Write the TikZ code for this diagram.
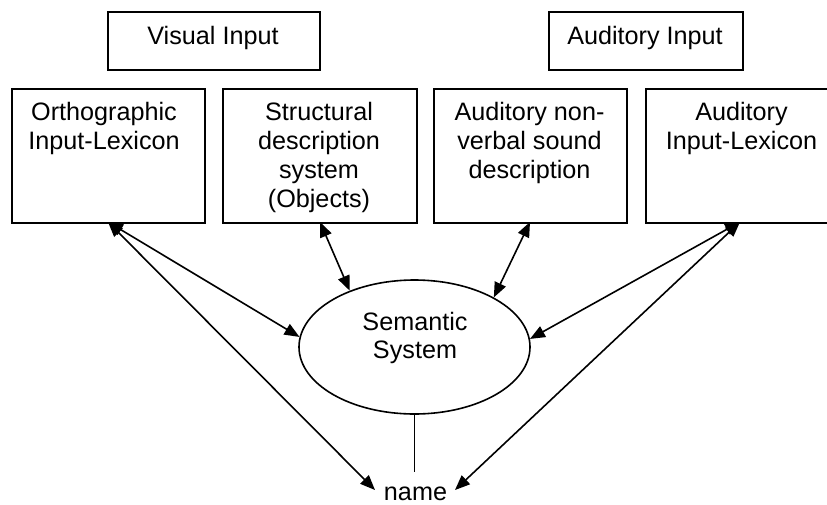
\documentclass[tikz,border=0pt]{standalone}
\usepackage{fontspec}
\setmainfont{Liberation Sans}
\usetikzlibrary{arrows.meta,shapes.geometric,calc}

\tikzset{
  x=1pt, y=1pt,
  frame/.style={draw, line width=1.8pt, rectangle, inner sep=0pt, anchor=north west},
  label text/.style={inner sep=0pt, align=center, font=\fontsize{25.2}{28.75}\selectfont},
  link/.style={line width=1.6pt, {Triangle[length=15pt,width=12pt]}-{Triangle[length=15pt,width=12pt]}},
}

\begin{document}
\begin{tikzpicture}
  \useasboundingbox (0,0) rectangle (827,-504);
  \clip (0,0) rectangle (827,-504);

  % input boxes
  \node[frame, minimum width=212pt, minimum height=58pt] (vis) at (107,-11) {};
  \node[label text, anchor=base] (vistext) at (213,-44.3) {Visual Input};
  \node[frame, minimum width=194pt, minimum height=58pt] (aud) at (548,-11) {};
  \node[label text, anchor=base] (audtext) at (645,-44.3) {Auditory Input};

  % processing boxes
  \node[frame, minimum width=193pt, minimum height=134pt] (ortho) at (11,-88) {};
  \node[frame, minimum width=194pt, minimum height=134pt] (struct) at (222,-88) {};
  \node[frame, minimum width=193pt, minimum height=134pt] (nonverb) at (433,-88) {};
  \node[frame, minimum width=193pt, minimum height=134pt] (audlex) at (645,-88) {};

  \node[label text, anchor=north] (orthotext) at (104,-102.5) {Orthographic\\Input-Lexicon};
  \node[label text, anchor=north] (structtext) at (319,-102.5) {Structural\\description\\system\\(Objects)};
  \node[label text, anchor=north] (nonverbtext) at (529.5,-102.5) {Auditory non-\\verbal sound\\description};
  \node[label text, anchor=north] (audlextext) at (741.5,-102.5) {Auditory\\Input-Lexicon};

  % semantic system
  \node[draw, line width=1.6pt, ellipse, minimum width=231pt, minimum height=134pt, inner sep=0pt] (sem) at (414.5,-347) {};
  \node[label text] (semtext) at (415,-338) {Semantic\\System};

  % output
  \node[label text, anchor=base] (name) at (415.5,-500) {name};
  \coordinate (orthoport) at (108,-222);
  \coordinate (structport) at (320,-222);
  \coordinate (nonverbport) at (530,-222);
  \coordinate (audlexport) at (740,-222);
  \coordinate (nameleft) at (375,-490);
  \coordinate (nameright) at (455,-490);
  \coordinate (nametop) at (414.5,-472);

  % connections
  \draw[link] (orthoport) -- (sem.175);
  \draw[link] (orthoport) -- (nameleft);
  \draw[link] (structport) -- (sem.139.6);
  \draw[link] (nonverbport) -- (sem.32.3);
  \draw[link] (audlexport) -- (sem.4.9);
  \draw[link] (audlexport) -- (nameright);
  \draw[line width=1.6pt] (sem.south) -- (nametop);
\end{tikzpicture}
\end{document}
